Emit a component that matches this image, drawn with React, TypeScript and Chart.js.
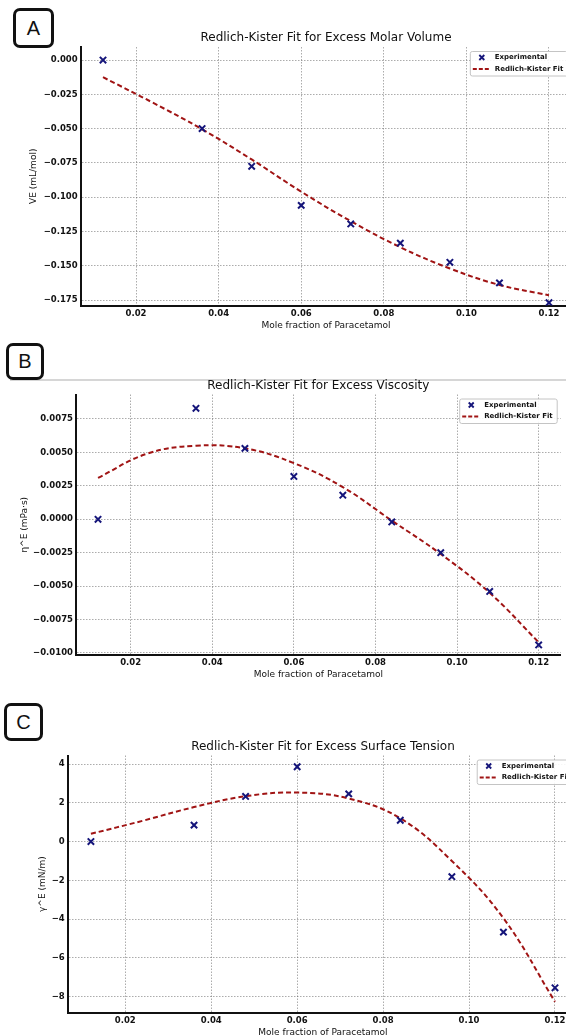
import React, { useEffect, useRef } from 'react';
import { Chart, registerables } from 'chart.js';

Chart.register(...registerables);

// ---------- data ----------
const expFraction = [0.012, 0.036, 0.048, 0.06, 0.072, 0.084, 0.096, 0.108, 0.12];
const fitFraction = [0.012, 0.024, 0.036, 0.048, 0.06, 0.072, 0.084, 0.096, 0.108, 0.12];
const xTickValues = [0.02, 0.04, 0.06, 0.08, 0.1, 0.12];

const volumeExp = [0.0, -0.05, -0.0775, -0.106, -0.1195, -0.1335, -0.1475, -0.1625, -0.177];
const volumeFit = [-0.0125, -0.031, -0.0505, -0.0725, -0.096, -0.1175, -0.1365, -0.152, -0.164, -0.1715];
const volumeTicks = [0, -0.025, -0.05, -0.075, -0.1, -0.125, -0.15, -0.175];

const viscosityExp = [0.0, 0.0083, 0.0053, 0.0032, 0.0018, -0.0002, -0.0025, -0.0054, -0.0094];
const viscosityFit = [0.0031, 0.0049, 0.0055, 0.0053, 0.0042, 0.0024, -0.0001, -0.0026, -0.0055, -0.0092];
const viscosityTicks = [0.0075, 0.005, 0.0025, 0, -0.0025, -0.005, -0.0075, -0.01];

const tensionExp = [0.0, 0.85, 2.33, 3.86, 2.46, 1.1, -1.81, -4.67, -7.54];
const tensionFit = [0.4, 1.07, 1.78, 2.34, 2.53, 2.22, 1.2, -1.0, -3.95, -8.26];
const tensionTicks = [4, 2, 0, -2, -4, -6, -8];

const xAxisTitle = 'Mole fraction of Paracetamol';
const seriesNames = ['Experimental', 'Redlich-Kister Fit'];

// ---------- styling / layout ----------
const FONT = '"DejaVu Sans", sans-serif';
const CANVAS_W = 600;
const MARKER_COLOR = '#15157a';
const FIT_COLOR = '#a01414';
const TEXT_COLOR = '#111';

type PanelProps = {
  top: number;
  height: number;
  area: { left: number; right: number; top: number; bottom: number };
  yMin: number;
  yMax: number;
  yTicks: number[];
  yDecimals: number;
  exp: number[];
  fit: number[];
  title: string;
  yTitle: string;
  yTitleX: number;
};

const fmt = (v: number, d: number) => {
  const s = Math.abs(v).toFixed(d);
  return (v < 0 && Number(s) !== 0 ? '\u2212' : '') + s;
};

const decorPlugin = {
  id: 'decor',
  afterDraw(chart: any, _args: any, opts: any) {
    const { ctx, chartArea } = chart;
    const cx = (chartArea.left + chartArea.right) / 2;
    const cy = (chartArea.top + chartArea.bottom) / 2;
    ctx.save();
    ctx.fillStyle = TEXT_COLOR;
    ctx.textAlign = 'center';
    ctx.textBaseline = 'middle';
    ctx.font = `12px ${FONT}`;
    ctx.fillText(opts.title, cx, chartArea.top - 9);
    ctx.font = `9px ${FONT}`;
    ctx.fillText(opts.xTitle, cx, chartArea.bottom + 20);
    ctx.save();
    ctx.translate(opts.yTitleX, cy);
    ctx.rotate(-Math.PI / 2);
    ctx.fillText(opts.yTitle, 0, 0);
    ctx.restore();

    // legend
    ctx.font = `bold 7px ${FONT}`;
    const tw = Math.max(...opts.names.map((n: string) => ctx.measureText(n).width));
    const boxW = 25 + tw + 4;
    const boxH = 24.5;
    const bx = chartArea.right - 4 - boxW;
    const by = chartArea.top + 4;
    ctx.beginPath();
    ctx.roundRect(bx + 0.5, by + 0.5, boxW, boxH, 2);
    ctx.fillStyle = 'rgba(255,255,255,0.9)';
    ctx.fill();
    ctx.strokeStyle = '#c4c4c4';
    ctx.lineWidth = 1;
    ctx.stroke();
    const r1 = by + 6.5;
    const r2 = by + 18;
    ctx.strokeStyle = MARKER_COLOR;
    ctx.lineWidth = 1.8;
    ctx.beginPath();
    ctx.moveTo(bx + 12 - 2.5, r1 - 2.5);
    ctx.lineTo(bx + 12 + 2.5, r1 + 2.5);
    ctx.moveTo(bx + 12 - 2.5, r1 + 2.5);
    ctx.lineTo(bx + 12 + 2.5, r1 - 2.5);
    ctx.stroke();
    ctx.strokeStyle = FIT_COLOR;
    ctx.setLineDash([4, 2]);
    ctx.beginPath();
    ctx.moveTo(bx + 3, r2);
    ctx.lineTo(bx + 21, r2);
    ctx.stroke();
    ctx.setLineDash([]);
    ctx.fillStyle = TEXT_COLOR;
    ctx.textAlign = 'left';
    ctx.fillText(opts.names[0], bx + 25, r1);
    ctx.fillText(opts.names[1], bx + 25, r2);
    ctx.restore();
  },
};

function Panel(p: PanelProps) {
  const ref = useRef<HTMLCanvasElement>(null);
  useEffect(() => {
    if (!ref.current) return;
    const gridColor = 'rgba(90,90,90,0.5)';
    const xAxisH = p.top + p.height - p.area.bottom;
    const tickFont = { family: FONT, size: 8.5, weight: 'bold' as const };
    const chart = new Chart(ref.current, {
      type: 'scatter',
      data: {
        datasets: [
          {
            type: 'scatter',
            label: seriesNames[0],
            data: expFraction.map((x, i) => ({ x, y: p.exp[i] })),
            pointStyle: 'crossRot',
            pointRadius: 4.5,
            pointBorderWidth: 2,
            borderColor: MARKER_COLOR,
            backgroundColor: MARKER_COLOR,
          },
          {
            type: 'line',
            label: seriesNames[1],
            data: fitFraction.map((x, i) => ({ x, y: p.fit[i] })),
            borderColor: FIT_COLOR,
            borderWidth: 2,
            borderDash: [5, 3],
            pointRadius: 0,
            fill: false,
            tension: 0.4,
          } as any,
        ],
      },
      options: {
        animation: false,
        responsive: false,
        devicePixelRatio: 1,
        layout: {
          padding: { top: p.area.top - p.top, right: CANVAS_W - p.area.right, left: 0, bottom: 0 },
        },
        plugins: {
          legend: { display: false },
          tooltip: { enabled: false },
          decor: {
            title: p.title,
            xTitle: xAxisTitle,
            yTitle: p.yTitle,
            yTitleX: p.yTitleX,
            names: seriesNames,
          },
        } as any,
        scales: {
          x: {
            type: 'linear',
            min: 0.0066,
            max: 0.1254,
            afterBuildTicks: (s: any) => {
              s.ticks = xTickValues.map((v) => ({ value: v }));
            },
            afterFit: (s: any) => {
              s.height = xAxisH;
            },
            grid: { color: gridColor, lineWidth: 1, drawTicks: false },
            border: { display: true, color: '#111', width: 2, dash: [1.5, 1.5] },
            ticks: {
              padding: 3,
              color: TEXT_COLOR,
              font: tickFont,
              maxRotation: 0,
              autoSkip: false,
              callback: (v: any) => fmt(Number(v), 2),
            },
          },
          y: {
            type: 'linear',
            min: p.yMin,
            max: p.yMax,
            afterBuildTicks: (s: any) => {
              s.ticks = p.yTicks.map((v) => ({ value: v }));
            },
            afterFit: (s: any) => {
              s.width = p.area.left;
            },
            grid: { color: gridColor, lineWidth: 1, drawTicks: false },
            border: { display: true, color: '#111', width: 2, dash: [1.5, 1.5] },
            ticks: {
              padding: 3,
              color: TEXT_COLOR,
              font: tickFont,
              autoSkip: false,
              callback: (v: any) => fmt(Number(v), p.yDecimals),
            },
          },
        },
      },
      plugins: [decorPlugin as any],
    });
    return () => chart.destroy();
  }, []);
  return (
    <canvas
      ref={ref}
      width={CANVAS_W}
      height={p.height}
      style={{ position: 'absolute', left: 0, top: p.top, width: CANVAS_W, height: p.height }}
    />
  );
}

function Badge({ text, left, top, w, h }: { text: string; left: number; top: number; w: number; h: number }) {
  return (
    <div
      style={{
        position: 'absolute',
        left,
        top,
        width: w,
        height: h,
        boxSizing: 'border-box',
        border: '3.5px solid #111',
        borderRadius: 7,
        display: 'flex',
        alignItems: 'center',
        justifyContent: 'center',
        font: '20px "Liberation Sans", Arial, sans-serif',
        color: '#111',
        background: '#fff',
      }}
    >
      {text}
    </div>
  );
}

export default function App() {
  return (
    <div
      style={{
        position: 'absolute',
        left: 0,
        top: 0,
        width: 566,
        height: 1035,
        overflow: 'hidden',
        background: '#fff',
      }}
    >
      <Panel
        top={0}
        height={345}
        area={{ left: 80.7, right: 571.3, top: 47, bottom: 305.5 }}
        yMin={-0.179}
        yMax={0.0095}
        yTicks={volumeTicks}
        yDecimals={3}
        exp={volumeExp}
        fit={volumeFit}
        title="Redlich-Kister Fit for Excess Molar Volume"
        yTitle="VE (mL/mol)"
        yTitleX={34}
      />
      <div style={{ position: 'absolute', left: 10, top: 379, width: 556, height: 1.5, background: '#d6d6d6' }} />
      <Panel
        top={370}
        height={320}
        area={{ left: 76, right: 560.7, top: 394.5, bottom: 655 }}
        yMin={-0.01015}
        yMax={0.00933}
        yTicks={viscosityTicks}
        yDecimals={4}
        exp={viscosityExp}
        fit={viscosityFit}
        title="Redlich-Kister Fit for Excess Viscosity"
        yTitle="η^E (mPa·s)"
        yTitleX={25}
      />
      <Panel
        top={725}
        height={310}
        area={{ left: 67.7, right: 578.2, top: 755.5, bottom: 1012.7 }}
        yMin={-8.825}
        yMax={4.44}
        yTicks={tensionTicks}
        yDecimals={0}
        exp={tensionExp}
        fit={tensionFit}
        title="Redlich-Kister Fit for Excess Surface Tension"
        yTitle="γ^E (mN/m)"
        yTitleX={43}
      />
      <Badge text="A" left={13} top={8} w={41} h={40} />
      <Badge text="B" left={6} top={343} w={38} h={37} />
      <Badge text="C" left={4} top={703} w={39} h={38} />
    </div>
  );
}
